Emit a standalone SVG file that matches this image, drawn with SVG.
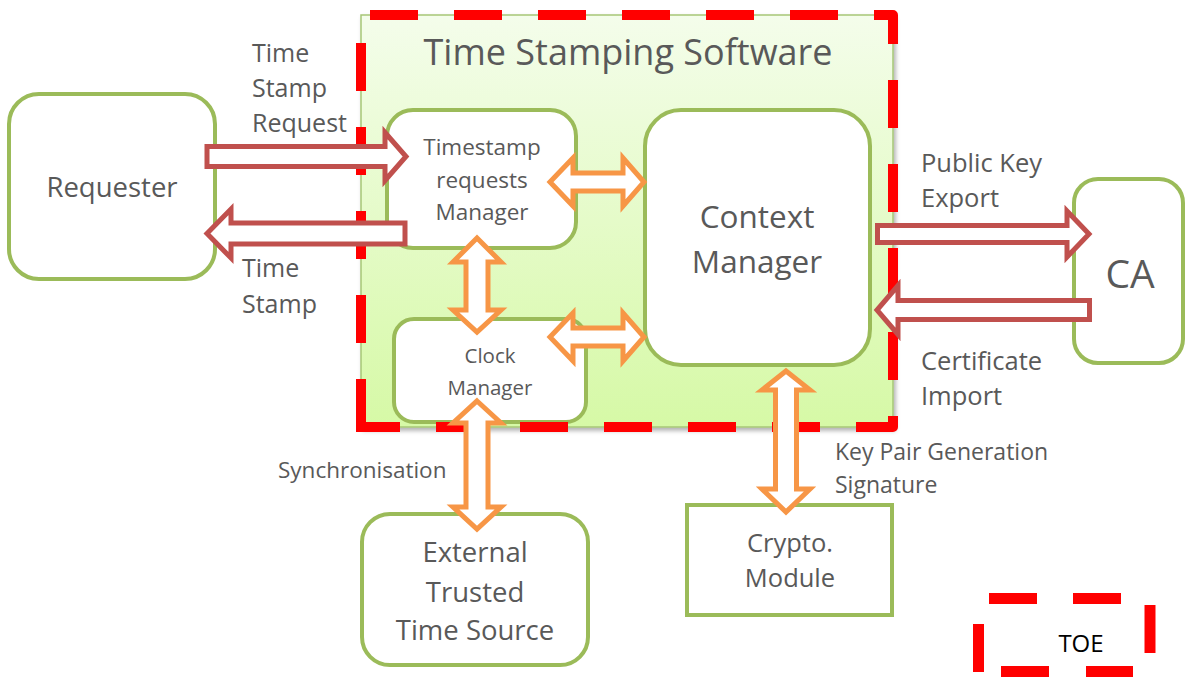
<svg xmlns="http://www.w3.org/2000/svg" width="1187" height="678" viewBox="0 0 1187 678">
<defs>
<linearGradient id="gSoft" x1="0" y1="0" x2="0" y2="1">
<stop offset="0" stop-color="#f4fdeb"/>
<stop offset="1" stop-color="#d6f9a6"/>
</linearGradient>
<filter id="shadow" x="-5%" y="-5%" width="115%" height="115%">
<feDropShadow dx="2" dy="3" stdDeviation="2" flood-color="#000" flood-opacity="0.3"/>
</filter>
</defs>
<style>
.box{fill:#fff;stroke:#9bbb59;stroke-width:4}
.t{font-family:"Open Sans","Noto Sans","Liberation Sans",sans-serif;fill:#595959}
.c{text-anchor:middle}
.red{fill:#fff;stroke:#c0504d;stroke-width:5;stroke-linejoin:miter}
.org{fill:#fff;stroke:#f79646;stroke-width:5;stroke-linejoin:miter}
.dash{fill:none;stroke:#ff0000;stroke-width:10}
</style>
<rect width="1187" height="678" fill="#fff"/>

<g id="software">
<rect x="361" y="15" width="532" height="412" fill="url(#gSoft)" stroke="#a6c677" stroke-width="1.5" filter="url(#shadow)"/>
<text class="t c" x="628" y="65" font-size="36">Time Stamping Software</text>
</g>

<g id="requester">
<rect class="box" x="9" y="94" width="206" height="185" rx="30"/>
<text class="t c" x="112" y="197" font-size="27.5">Requester</text>
</g>

<g id="trm">
<rect class="box" x="387" y="110" width="189" height="138" rx="26"/>
<text class="t c" font-size="22.5"><tspan x="482" y="155">Timestamp</tspan><tspan x="482" y="188">requests</tspan><tspan x="482" y="220">Manager</tspan></text>
</g>

<g id="context">
<rect class="box" x="645" y="110" width="225" height="255" rx="36"/>
<text class="t c" font-size="31.5"><tspan x="757" y="228">Context</tspan><tspan x="757" y="273">Manager</tspan></text>
</g>

<g id="clock">
<rect class="box" x="394" y="319" width="192" height="103" rx="20"/>
<text class="t c" font-size="20.5"><tspan x="490" y="363">Clock</tspan><tspan x="490" y="395">Manager</tspan></text>
</g>

<g id="external">
<rect class="box" x="362" y="514" width="226" height="151" rx="28"/>
<text class="t c" font-size="27.5"><tspan x="475" y="562">External</tspan><tspan x="475" y="602">Trusted</tspan><tspan x="475" y="640">Time Source</tspan></text>
</g>

<g id="crypto">
<rect class="box" x="687" y="505" width="205" height="110"/>
<text class="t c" font-size="25.5"><tspan x="790" y="552">Crypto.</tspan><tspan x="790" y="587">Module</tspan></text>
</g>

<g id="ca">
<rect class="box" x="1074" y="179" width="109" height="184" rx="24"/>
<text class="t c" x="1130" y="288" font-size="39">CA</text>
</g>

<g id="toe-boundary">
<path class="dash" d="M361,15 H893 V427 H361" stroke-dasharray="48 36" stroke-dashoffset="75" stroke-linejoin="round"/>
<path class="dash" d="M361,432 V15" stroke-dasharray="53 36 48 36 48 36 48 36 48 100"/>
</g>

<g id="connectors">
<polygon class="red" points="207,146.5 385,146.5 385,132.5 406,156.5 385,180.5 385,166.5 207,166.5"/>
<polygon class="red" points="405,223 231,223 231,209 207,233.5 231,258 231,244 405,244"/>
<polygon class="red" points="877.5,225.5 1067,225.5 1067,211 1089,234 1067,257 1067,242.5 877.5,242.5"/>
<polygon class="red" points="1089.5,300.5 898,300.5 898,285.5 877,310 898,334.5 898,319.5 1089.5,319.5"/>
<polygon class="org" points="550,182 573,158 573,173 623,173 623,158 644,182 623,206 623,191 573,191 573,206"/>
<polygon class="org" points="550,337 573,313 573,328 623,328 623,313 644,337 623,361 623,346 573,346 573,361"/>
<polygon class="org" points="477,238 501,262 488,262 488,310 501,310 477,332 453,310 466,310 466,262 453,262"/>
<polygon class="org" points="477,401 501,423 488,423 488,507 501,507 477,529 453,507 466,507 466,423 453,423"/>
<polygon class="org" points="786,371 810,390 796.5,390 796.5,489 810,489 786,512 762,489 775.5,489 775.5,390 762,390"/>
</g>

<g id="labels">
<text class="t" font-size="25"><tspan x="252" y="62">Time</tspan><tspan x="252" y="97">Stamp</tspan><tspan x="252" y="132">Request</tspan></text>
<text class="t" font-size="25"><tspan x="242" y="277">Time</tspan><tspan x="242" y="313">Stamp</tspan></text>
<text class="t" font-size="25.5"><tspan x="921" y="172">Public Key</tspan><tspan x="921" y="207">Export</tspan></text>
<text class="t" font-size="25.5"><tspan x="921" y="370">Certificate</tspan><tspan x="921" y="405">Import</tspan></text>
<text class="t" x="278" y="478" font-size="22.5">Synchronisation</text>
<text class="t" font-size="23"><tspan x="835" y="460">Key Pair Generation</tspan><tspan x="835" y="493">Signature</tspan></text>
</g>

<g id="legend">
<g stroke="#ff0000" stroke-width="11">
<line x1="989" y1="598.5" x2="1037" y2="598.5"/>
<line x1="1073" y1="598.5" x2="1121" y2="598.5"/>
<line x1="1150" y1="605" x2="1150" y2="653"/>
<line x1="978.5" y1="624" x2="978.5" y2="672"/>
<line x1="1001" y1="671.5" x2="1049" y2="671.5"/>
<line x1="1086" y1="671.5" x2="1133" y2="671.5"/>
</g>
<text x="1081" y="652" font-size="24" text-anchor="middle" font-family="Open Sans, Noto Sans, sans-serif" fill="#000">TOE</text>
</g>
</svg>
